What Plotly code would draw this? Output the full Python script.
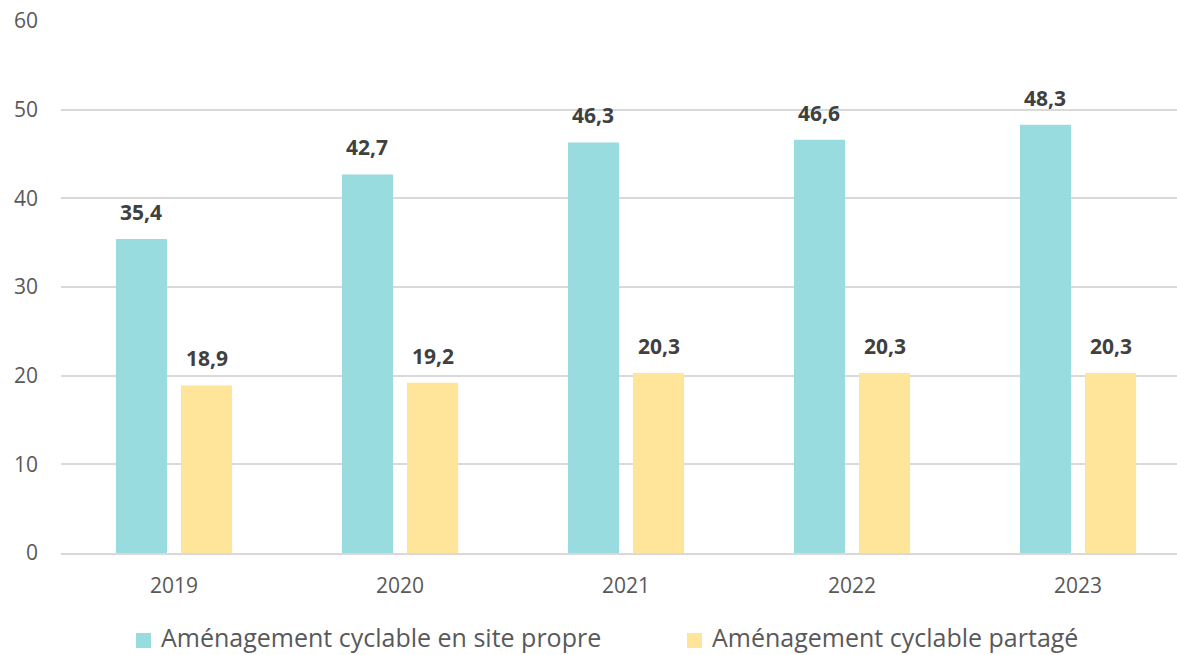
import plotly.graph_objects as go

# Longueur des aménagements cyclables par année
annees = ["2019", "2020", "2021", "2022", "2023"]
site_propre = [35.4, 42.7, 46.3, 46.6, 48.3]
partage = [18.9, 19.2, 20.3, 20.3, 20.3]

noms_series = ["Aménagement cyclable en site propre", "Aménagement cyclable partagé"]
couleurs = ["#99DCE0", "#FFE599"]

police = "Open Sans"
gauche, haut, bas = 61, 21, 102
largeur, hauteur = 1177, 655
plot_w = largeur - gauche
plot_h = hauteur - haut - bas
cat_px = 226  # largeur d'une catégorie en pixels

fig = go.Figure()

bar_w = 0.226
offsets = [-0.257, 0.031]
for nom, vals, coul, off in zip(noms_series, [site_propre, partage], couleurs, offsets):
    fig.add_trace(go.Bar(
        x=annees, y=vals, name=nom,
        marker=dict(color=coul, line=dict(width=0)),
        width=bar_w, offset=off, showlegend=False,
    ))

# Étiquettes de valeur au-dessus des barres
for vals, off in zip([site_propre, partage], offsets):
    for i, v in enumerate(vals):
        fig.add_annotation(
            x=i, y=v, text=f"{v:.1f}".replace(".", ","),
            showarrow=False, yanchor="bottom", yshift=11,
            xshift=(off + bar_w / 2) * cat_px,
            font=dict(family=police, size=21, color="#404040", weight="bold"),
        )

# Légende sous le graphique
legende = [(136, 159), (687, 710)]
for (sx, tx), nom, coul in zip(legende, noms_series, couleurs):
    y_c = 640.5
    fig.add_shape(
        type="rect", xref="paper", yref="paper",
        x0=(sx - gauche) / plot_w, x1=(sx + 15 - gauche) / plot_w,
        y0=(hauteur - bas - (y_c - 7.5)) / plot_h, y1=(hauteur - bas - (y_c + 7.5)) / plot_h,
        fillcolor=coul, line=dict(width=0),
    )
    fig.add_annotation(
        xref="paper", yref="paper", x=(tx - gauche) / plot_w,
        y=(hauteur - bas - 637) / plot_h, xanchor="left", yanchor="middle",
        text=nom, showarrow=False,
        font=dict(family=police, size=25, color="#595959"),
    )

fig.update_layout(
    width=largeur, height=hauteur,
    margin=dict(l=gauche, r=0, t=haut, b=bas, autoexpand=False),
    paper_bgcolor="white", plot_bgcolor="white",
    showlegend=False,
    font=dict(family=police),
)

fig.update_xaxes(
    type="category", range=[-0.5, 4.438],
    showgrid=False, showline=True, linecolor="#D9D9D9", linewidth=1.5,
    ticks="", tickfont=dict(family=police, size=21, color="#595959"),
    ticklabelstandoff=13,
)
fig.update_yaxes(
    range=[0, 60], dtick=10, showgrid=True, gridcolor="#D9D9D9", gridwidth=1.5,
    zeroline=False, showline=False, ticks="",
    tickfont=dict(family=police, size=21, color="#595959"),
    ticklabelstandoff=22,
)

fig.write_html("out.html")
